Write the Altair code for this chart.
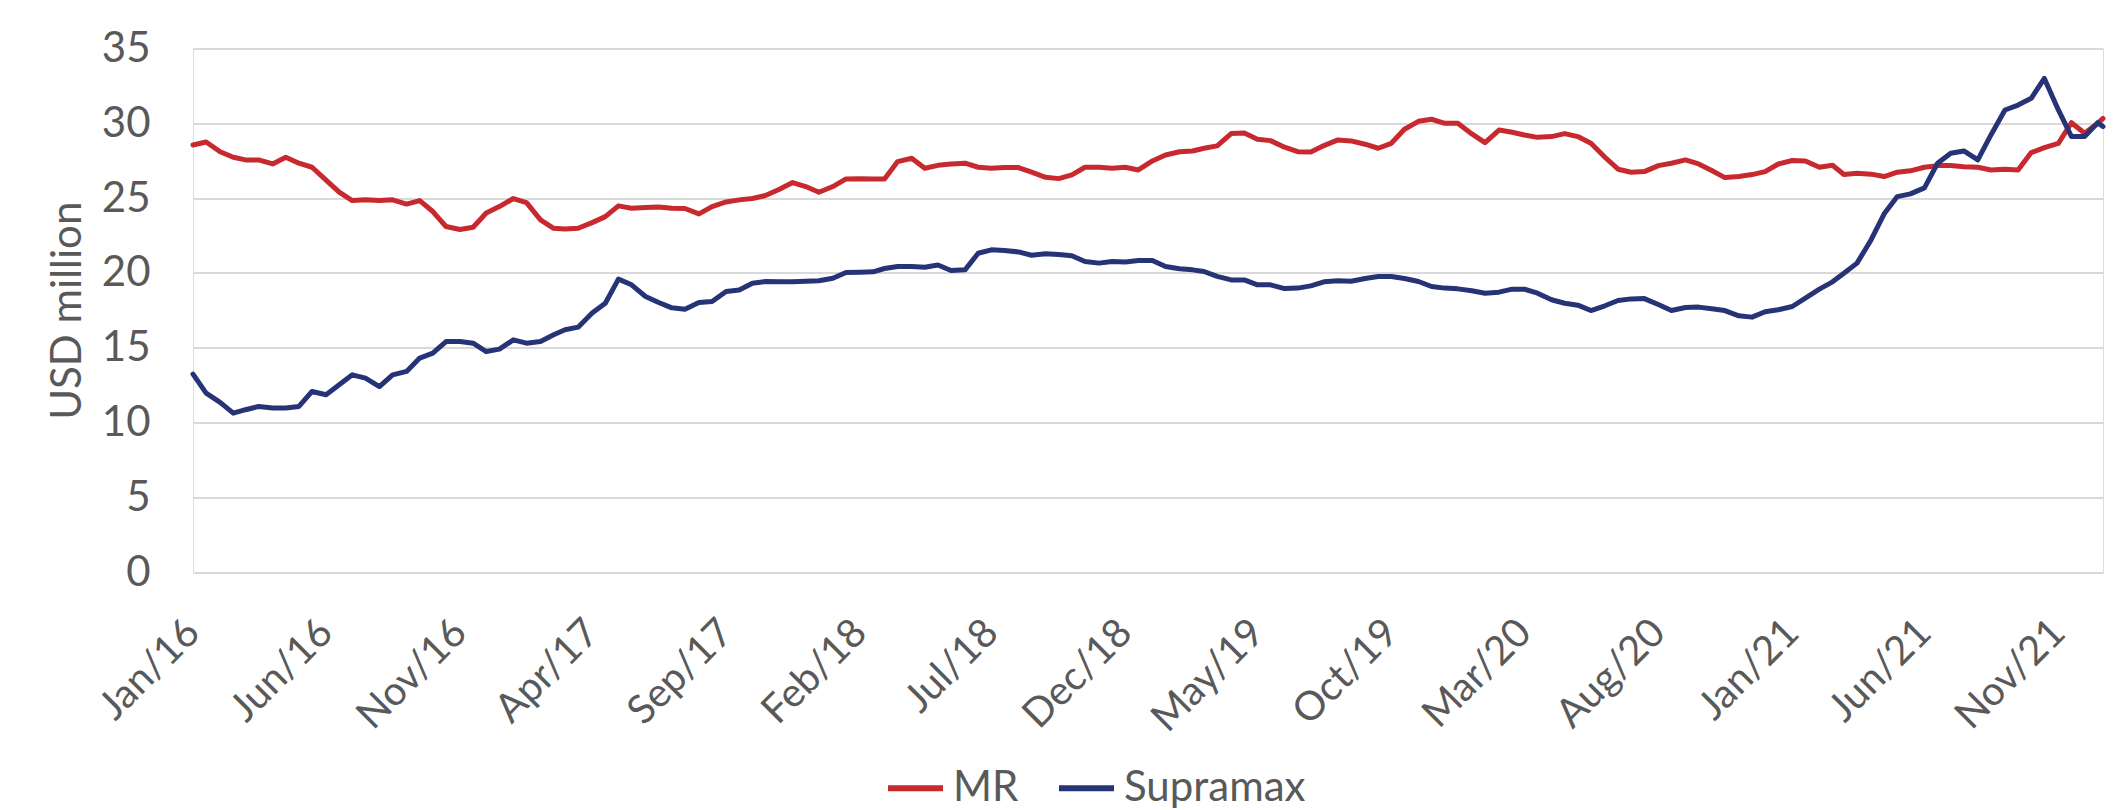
import altair as alt
import pandas as pd

# ---- data (half-monthly readings, USD million) ----
years = [2016, 2017, 2018, 2019, 2020, 2021]
months = list(range(1, 13))
days = [1, 16]
dates = [f"{y}-{m:02d}-{d:02d}" for y in years for m in months for d in days]
dates.append("2021-12-22")

mr = [
    28.55, 28.75, 28.1, 27.73, 27.55, 27.55, 27.28, 27.73, 27.33, 27.06, 26.2, 25.4,
    24.83, 24.88, 24.83, 24.88, 24.6, 24.83, 24.1, 23.1, 22.9, 23.05, 24.0, 24.43,
    24.97, 24.7, 23.54, 22.98, 22.94, 22.98, 23.36, 23.76, 24.48, 24.32, 24.37, 24.41,
    24.32, 24.3, 23.94, 24.43, 24.74, 24.88, 24.97, 25.17, 25.59, 26.04, 25.77, 25.39,
    25.77, 26.28, 26.3, 26.28, 26.28, 27.44, 27.66, 26.99, 27.19, 27.28, 27.33, 27.06,
    26.99, 27.04, 27.04, 26.73, 26.39, 26.3, 26.55, 27.06, 27.06, 26.99, 27.06, 26.88,
    27.48, 27.88, 28.1, 28.15, 28.33, 28.49, 29.31, 29.35, 28.93, 28.84, 28.4, 28.1,
    28.08, 28.51, 28.89, 28.82, 28.6, 28.33, 28.66, 29.6, 30.13, 30.27, 30.0, 30.0,
    29.29, 28.71, 29.55, 29.4, 29.22, 29.06, 29.11, 29.31, 29.11, 28.66, 27.73, 26.93,
    26.73, 26.77, 27.17, 27.33, 27.55, 27.28, 26.84, 26.37, 26.44, 26.57, 26.77, 27.28,
    27.51, 27.48, 27.06, 27.19, 26.58, 26.66, 26.6, 26.44, 26.73, 26.82, 27.06, 27.17,
    27.17, 27.1, 27.06, 26.88, 26.93, 26.88, 28.04, 28.37, 28.66, 30.04, 29.33, 30.0,
    30.33,
]

supramax = [
    13.23, 11.96, 11.34, 10.62, 10.85, 11.07, 10.96, 10.96, 11.07, 12.07, 11.85, 12.52,
    13.18, 12.96, 12.4, 13.18, 13.41, 14.3, 14.63, 15.41, 15.41, 15.3, 14.74, 14.9,
    15.52, 15.3, 15.41, 15.86, 16.2, 16.37, 17.31, 17.97, 19.58, 19.2, 18.42, 18.02,
    17.66, 17.57, 18.02, 18.08, 18.75, 18.86, 19.31, 19.42, 19.4, 19.4, 19.44, 19.47,
    19.64, 20.02, 20.04, 20.07, 20.29, 20.42, 20.42, 20.38, 20.53, 20.16, 20.2, 21.31,
    21.54, 21.49, 21.4, 21.18, 21.27, 21.22, 21.14, 20.76, 20.65, 20.76, 20.73, 20.82,
    20.82, 20.42, 20.27, 20.2, 20.09, 19.76, 19.53, 19.53, 19.2, 19.2, 18.95, 18.98,
    19.13, 19.4, 19.47, 19.44, 19.62, 19.76, 19.76, 19.62, 19.42, 19.09, 18.98, 18.93,
    18.8, 18.64, 18.71, 18.91, 18.91, 18.64, 18.2, 17.97, 17.84, 17.48, 17.8, 18.15,
    18.26, 18.28, 17.88, 17.48, 17.68, 17.71, 17.6, 17.48, 17.13, 17.04, 17.4, 17.53,
    17.75, 18.31, 18.91, 19.4, 19.98, 20.65, 22.2, 23.95, 25.1, 25.28, 25.68, 27.33,
    28.0, 28.15, 27.55, 29.22, 30.89, 31.22, 31.67, 33.0, 30.89, 29.11, 29.11, 30.04,
    29.78,
]

series_names = ["MR", "Supramax"]
series_colors = ["#c8292e", "#263477"]

# x-axis tick labels (every 5 months)
tick_year_month = [
    (2016, 1), (2016, 6), (2016, 11), (2017, 4), (2017, 9), (2018, 2), (2018, 7),
    (2018, 12), (2019, 5), (2019, 10), (2020, 3), (2020, 8), (2021, 1), (2021, 6),
    (2021, 11),
]
y_ticks = [0, 5, 10, 15, 20, 25, 30, 35]

df = pd.DataFrame({
    "date": dates + dates,
    "value": mr + supramax,
    "series": [series_names[0]] * len(mr) + [series_names[1]] * len(supramax),
})

grey = "#595959"
font = "Lato"

x_values = [alt.DateTime(year=y, month=m, date=1, utc=True) for y, m in tick_year_month]
x_domain = [alt.DateTime(year=2016, month=1, date=1, utc=True),
            alt.DateTime(year=2021, month=12, date=22, utc=True)]

chart = alt.Chart(df).mark_line(
    strokeWidth=5, strokeCap="round", strokeJoin="round"
).encode(
    x=alt.X(
        "date:T",
        scale=alt.Scale(type="utc", domain=x_domain, nice=False),
        axis=alt.Axis(
            values=x_values, format="%b/%y", labelAngle=-45, labelAlign="right",
            labelBaseline="middle", labelFontSize=40, labelPadding=54, labelColor=grey,
            labelFont=font, ticks=False, domain=False, grid=False, labelFlush=False,
            labelOverlap=False, labelBound=False, title=None,
        ),
    ),
    y=alt.Y(
        "value:Q",
        scale=alt.Scale(domain=[0, 35], nice=False),
        axis=alt.Axis(
            values=y_ticks, title="USD million", labelFontSize=42, labelPadding=43,
            labelColor=grey, labelFont=font, ticks=False, domain=False,
            gridColor="#d9d9d9", gridWidth=2, titleFontSize=42, titleFont=font,
            titleFontWeight="normal", titleColor=grey, titlePadding=12,
        ),
    ),
    color=alt.Color(
        "series:N",
        scale=alt.Scale(domain=series_names, range=series_colors),
        legend=alt.Legend(
            orient="none", legendX=692, legendY=709, direction="horizontal",
            title=None, symbolType="stroke", symbolSize=3025, symbolStrokeWidth=6,
            labelFontSize=42, labelFont=font, labelColor=grey, labelOffset=7,
            labelLimit=0, columnPadding=28, padding=0,
        ),
    ),
    order=alt.Order("series:N"),
).properties(
    width=1910,
    height=523.5,
    autosize=alt.AutoSizeParams(type="none"),
    padding={"left": 185, "top": 40.5, "right": 15, "bottom": 238},
).configure_view(stroke=None).configure(font=font)

chart.save("out.html", embed_options={"renderer": "svg", "actions": False})
